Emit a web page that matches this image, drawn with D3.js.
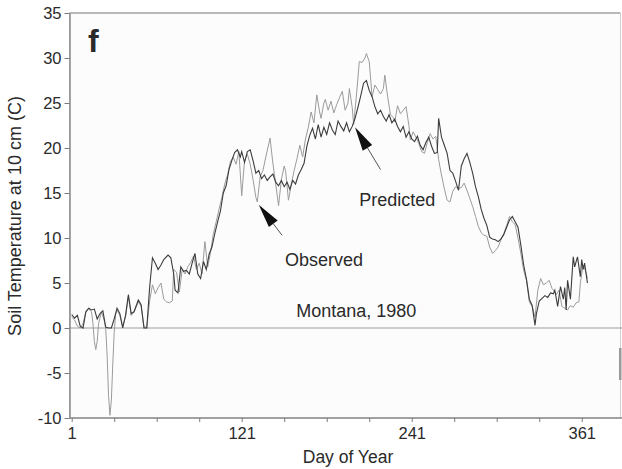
<!DOCTYPE html>
<html>
<head>
<meta charset="utf-8">
<script src="https://cdn.jsdelivr.net/npm/d3@7"></script>
<style>
  body { margin: 0; background: #fff; }
  svg text { font-family: "Liberation Sans", Arial, sans-serif; fill: #2a2a2a; }
</style>
</head>
<body>
<div id="chart"></div>
<script>
// Predicted soil temperature (darker line): [day, deg C]
const predicted = [
  [1,1.5],[3,1.1],[5,1.4],[7,0.2],[9,0],[11,1.8],[13,2.2],[15,2.0],[17,2.1],[19,1.0],
  [21,1.6],[23,1.9],[25,0.1],[27,0],[29,0],[31,1.0],[33,2.2],[35,1.6],[37,0],[39,1.4],
  [41,3.7],[43,1.6],[45,1.8],[48,3.1],[50,2.6],[52,0],[54,0],[56,4.5],[58,7.8],[60,7.2],
  [62,6.5],[64,7.0],[66,7.6],[69,8.1],[71,7.8],[73,6.0],[74,4.2],[76,3.9],[78,6.8],[80,6.3],
  [82,6.4],[84,6.0],[86,7.2],[88,8.3],[90,6.0],[92,5.5],[94,7.4],[96,6.5],[98,8.2],[100,9.0],
  [102,10.5],[104,11.8],[106,13.0],[108,15.0],[110,15.8],[112,17.6],[114,18.6],[116,19.5],[118,19.8],[120,19.0],
  [121,19.6],[123,18.4],[125,19.6],[127,19.8],[129,18.6],[131,17.2],[133,17.5],[135,16.6],[137,17.0],[139,16.4],
  [141,16.8],[143,17.1],[145,16.2],[147,15.8],[149,16.4],[151,15.7],[153,16.2],[155,15.4],[157,16.4],[159,16.0],
  [161,17.0],[163,17.6],[165,18.3],[167,20.2],[169,21.4],[171,22.2],[173,21.0],[175,22.6],[177,21.2],[179,22.3],
  [181,21.5],[183,22.8],[185,22.0],[187,21.5],[189,23.0],[191,22.4],[193,21.9],[195,22.8],[197,21.8],[199,22.4],
  [201,23.3],[203,24.5],[205,25.8],[207,27.2],[209,27.5],[211,26.4],[213,25.7],[215,24.6],[217,23.8],[219,24.2],
  [221,23.5],[223,23.0],[225,23.7],[227,22.8],[229,23.2],[231,22.4],[233,21.8],[235,22.4],[237,21.2],[239,21.8],
  [241,21.0],[243,20.7],[245,21.3],[247,20.3],[249,19.8],[251,20.6],[253,21.2],[255,20.2],[257,19.4],[259,19.5],
  [260,23.3],[262,21.2],[264,20.3],[266,19.4],[268,17.5],[270,17.2],[272,16.3],[274,15.3],[276,18.0],[278,18.8],
  [280,19.4],[282,18.4],[284,17.2],[286,15.7],[288,14.6],[290,13.2],[292,12.2],[294,11.4],[296,10.1],[298,9.9],
  [300,9.8],[302,9.6],[304,9.9],[306,10.4],[308,11.2],[310,12.0],[312,12.4],[314,11.8],[316,11.2],[318,9.2],
  [320,7.0],[322,5.4],[324,3.2],[326,2.5],[328,0.3],[329,1.6],[331,3.0],[333,3.3],[335,3.6],[337,3.4],
  [339,3.9],[341,3.8],[342,4.2],[344,2.4],[346,4.6],[348,3.2],[349,4.5],[350,2.0],[351,5.3],[353,3.2],
  [355,7.9],[356,6.8],[358,7.9],[360,5.7],[361,7.6],[362,6.5],[363,7.2],[365,5.0]
];

// Observed soil temperature (lighter line): [day, deg C]
const observed = [
  [1,1.2],[3,0.9],[5,0.2],[7,0],[9,0.5],[11,1.8],[13,2.1],[15,1.8],[16,0.5],[17,-1.5],
  [18,-2.4],[19,-1.5],[20,0.5],[22,1.8],[24,0.8],[25,0],[26,-3],[27,-7.5],[28,-9.7],[29,-8],
  [30,-4],[31,-0.5],[32,1.5],[33,2.0],[35,1.4],[37,0.2],[39,1.2],[41,3.5],[43,1.4],[45,1.8],
  [48,2.9],[50,2.4],[52,0.2],[54,0],[56,3.0],[58,4.8],[60,3.8],[62,4.5],[64,5.0],[66,3.2],
  [68,2.9],[70,2.8],[72,3.0],[73,6.5],[75,6.2],[77,4.0],[79,6.5],[81,6.0],[83,6.8],[85,7.3],
  [87,8.0],[89,6.5],[91,7.2],[93,6.0],[95,9.6],[97,6.8],[99,8.4],[101,10.5],[103,11.8],[105,13.2],
  [107,14.5],[109,16.0],[111,17.0],[113,18.5],[115,19.0],[117,18.2],[119,19.6],[121,14.7],[123,18.6],[125,19.3],
  [127,18.2],[129,16.5],[131,14.5],[132,14.0],[134,16.8],[136,17.5],[138,19.0],[141,21.1],[143,18.3],[145,16.0],
  [147,13.6],[149,16.5],[151,18.0],[152,17.4],[154,14.2],[156,16.0],[158,17.5],[160,18.8],[162,20.3],[164,19.0],
  [166,21.0],[168,22.3],[170,24.0],[172,22.8],[174,25.9],[176,24.0],[177,23.3],[179,25.0],[180,25.4],[182,24.2],
  [184,25.2],[186,23.9],[188,24.8],[190,25.6],[192,26.3],[194,24.2],[196,25.0],[197,26.6],[199,24.5],[200,22.6],
  [202,25.9],[204,29.6],[206,29.5],[208,30.0],[209,30.5],[211,29.6],[213,25.7],[215,27.0],[217,26.5],[219,26.0],
  [221,26.6],[222,28.1],[224,25.7],[226,23.7],[228,23.4],[229,22.9],[231,24.7],[233,23.8],[235,24.2],[237,24.6],
  [239,22.5],[240,20.9],[242,21.8],[244,21.2],[246,20.5],[248,19.6],[250,19.4],[252,20.6],[254,21.6],[256,21.0],
  [258,21.3],[260,18.7],[262,17.0],[264,15.5],[266,14.2],[268,14.0],[270,15.2],[272,15.7],[274,15.5],[276,15.6],
  [278,16.1],[280,15.3],[282,14.4],[284,13.5],[286,12.4],[288,11.3],[290,10.6],[292,10.3],[294,10.2],[296,9.0],
  [298,8.3],[300,8.6],[302,9.0],[304,9.8],[306,10.5],[308,11.4],[310,12.4],[312,11.8],[314,11.5],[316,10.0],
  [318,8.3],[320,6.4],[322,5.3],[324,2.9],[326,2.4],[328,1.2],[330,4.2],[332,5.5],[334,4.8],[336,5.0],
  [338,5.3],[340,4.4],[342,4.0],[343,3.7],[345,4.2],[347,2.4],[349,2.2],[351,2.0],[353,2.5],[355,2.3],
  [357,2.8],[359,2.9],[360,5.0],[362,7.0],[364,6.2],[365,5.5]
];

const yTicks = [-10, -5, 0, 5, 10, 15, 20, 25, 30, 35];
const xTicks = [1, 31, 61, 91, 121, 151, 181, 211, 241, 271, 301, 331, 361];
const xLabelled = [1, 121, 241, 361];

// annotations in data units: text position, arrow tip and tail
const labels = [
  { text: "Predicted", day: 204, temp: 13.6 },
  { text: "Observed", day: 151.5, temp: 6.9 },
  { text: "Montana, 1980", day: 159.5, temp: 1.2 }
];
const arrows = [
  { tip: [133, 13.7], tail: [149.5, 10.3] },
  { tip: [201, 22.3], tail: [219, 17.6] }
];

const width = 622;
const height = 469;

const svg = d3.select("#chart")
  .append("svg")
  .attr("width", width)
  .attr("height", height);

const x = d3.scaleLinear().domain([-0.55, 388]).range([69.5, 620]);
const y = d3.scaleLinear().domain([-10, 35]).range([418, 13]);

// faint frame
svg.append("rect")
  .attr("x", 69.5).attr("y", 13)
  .attr("width", 551).attr("height", 405)
  .attr("fill", "#fcfcfc")
  .attr("stroke", "#cfcfcf")
  .attr("stroke-width", 1);
svg.append("line")
  .attr("x1", 69.5).attr("x2", 620).attr("y1", 13).attr("y2", 13)
  .attr("stroke", "#a8a8a8").attr("stroke-width", 1.5);
svg.append("rect")
  .attr("x", 619).attr("y", 348).attr("width", 2.5).attr("height", 32)
  .attr("fill", "#9a9a9a");

// zero line
svg.append("line")
  .attr("x1", x(-0.55)).attr("x2", width)
  .attr("y1", y(0)).attr("y2", y(0))
  .attr("stroke", "#9c9c9c")
  .attr("stroke-width", 1.2);

// axes (plain hyphen for negatives, like the original)
const yAxis = svg.append("g")
  .attr("transform", "translate(69.5,0)")
  .call(d3.axisLeft(y).tickValues(yTicks).tickSize(5).tickPadding(3).tickSizeOuter(0)
    .tickFormat(d => String(d)));

const xAxis = svg.append("g")
  .attr("transform", "translate(0,418)")
  .call(d3.axisBottom(x).tickValues(xTicks).tickSize(4).tickPadding(5).tickSizeOuter(0)
    .tickFormat(d => xLabelled.includes(d) ? String(d) : ""));

[yAxis, xAxis].forEach(g => {
  g.select(".domain").attr("stroke", "#8a8a8a").attr("stroke-width", 1.5);
  g.selectAll(".tick line").attr("stroke", "#7a7a7a");
  g.selectAll(".tick text")
    .style("font-family", "Liberation Sans, Arial, sans-serif")
    .style("font-size", "16.5px")
    .attr("fill", "#2a2a2a");
});
xAxis.select(".domain").attr("d", `M69.5,0H${width}`);

// lines
const line = d3.line()
  .x(d => x(d[0]))
  .y(d => y(d[1]));

svg.append("path")
  .datum(observed)
  .attr("fill", "none")
  .attr("stroke", "#9b9b9b")
  .attr("stroke-width", 1)
  .attr("d", line);

svg.append("path")
  .datum(predicted)
  .attr("fill", "none")
  .attr("stroke", "#3c3c3c")
  .attr("stroke-width", 1.1)
  .attr("d", line);

// arrows
arrows.forEach(a => {
  const x1 = x(a.tip[0]), y1 = y(a.tip[1]);
  const x2 = x(a.tail[0]), y2 = y(a.tail[1]);
  const ang = Math.atan2(y2 - y1, x2 - x1);
  const len = 24, half = 5.5;
  const bx = x1 + len * Math.cos(ang), by = y1 + len * Math.sin(ang);
  svg.append("line")
    .attr("x1", bx).attr("y1", by).attr("x2", x2).attr("y2", y2)
    .attr("stroke", "#555").attr("stroke-width", 1);
  svg.append("path")
    .attr("d", `M${x1},${y1}L${bx - half * Math.sin(ang)},${by + half * Math.cos(ang)}L${bx + half * Math.sin(ang)},${by - half * Math.cos(ang)}Z`)
    .attr("fill", "#111");
});

// annotation text
svg.selectAll(".note")
  .data(labels)
  .enter()
  .append("text")
  .attr("class", "note")
  .attr("x", d => x(d.day))
  .attr("y", d => y(d.temp))
  .style("font-size", "18px")
  .text(d => d.text);

// panel letter
svg.append("text")
  .attr("x", 88)
  .attr("y", 52)
  .style("font-size", "32px")
  .style("font-weight", "bold")
  .attr("fill", "#111")
  .text("f");

// axis titles
svg.append("text")
  .attr("x", 348)
  .attr("y", 463)
  .attr("text-anchor", "middle")
  .style("font-size", "17.5px")
  .text("Day of Year");

svg.append("text")
  .attr("transform", "rotate(-90)")
  .attr("x", -216)
  .attr("y", 21)
  .attr("text-anchor", "middle")
  .style("font-size", "18px")
  .text("Soil Temperature at 10 cm (C)");
</script>
</body>
</html>
